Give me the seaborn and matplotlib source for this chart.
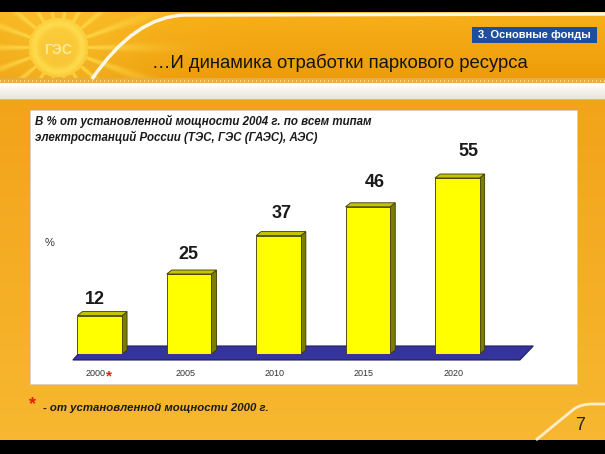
import numpy as np
import matplotlib
matplotlib.use("Agg")
import matplotlib.pyplot as plt
import seaborn as sns
from matplotlib.patches import Polygon, Rectangle, PathPatch
from matplotlib.path import Path
from matplotlib.transforms import ScaledTranslation

years = ["2000", "2005", "2010", "2015", "2020"]
values = [12, 25, 37, 46, 55]
title = "…И динамика отработки паркового ресурса"
section = "3. Основные фонды"
subtitle = ["В % от установленной мощности 2004 г. по всем типам",
            "электростанций России (ТЭС, ГЭС (ГАЭС), АЭС)"]
footnote = "- от установленной мощности 2000 г."

sns.set_theme(style="white")
plt.rcParams["font.family"] = ["Liberation Sans", "DejaVu Sans"]

W, H = 605, 454
fig = plt.figure(figsize=(W / 100, H / 100), dpi=100)

# ---- slide background (pixel coordinates)
bg = fig.add_axes([0, 0, 1, 1])
bg.axis("off")
yy, xx = np.mgrid[0:H, 0:W].astype(float)
img = np.zeros((H, W, 3))

t = (yy[12:78] - 12) / 66
img[12:78] = (np.array([0.97, 0.69, 0.10]) * (1 - t[..., None])
              + np.array([0.93, 0.61, 0.04]) * t[..., None])
# sun with rays at the top left
r = np.hypot(xx[12:80] - 58, yy[12:80] - 47)
th = np.arctan2(yy[12:80] - 47, xx[12:80] - 58)
rays = np.clip(np.cos(18 * th), 0, 1) ** 2
w = np.exp(-(r / 90) ** 2) * (0.3 + 0.6 * rays)
w = np.where(r < 30, 0.6 + 0.3 * np.exp(-((r - 24) / 4) ** 2), w)
w = np.clip(w, 0, 1)[..., None]
img[12:80] = img[12:80] * (1 - w) + np.array([1.0, 0.88, 0.32]) * w

img[78:83] = [0.90, 0.68, 0.28]
img[80:82, ::4] = [0.99, 0.86, 0.52]
t = (yy[83:99] - 83) / 16
img[83:99] = (np.array([1.0, 1.0, 0.99]) * (1 - t[..., None])
              + np.array([0.91, 0.89, 0.86]) * t[..., None])
img[99] = [0.82, 0.74, 0.60]
t = (yy[100:440] - 100) / 340
img[100:440] = (np.array([0.95, 0.64, 0.10]) * (1 - t[..., None])
                + np.array([0.97, 0.72, 0.19]) * t[..., None])
bg.imshow(img, extent=(0, W, H, 0), aspect="auto", zorder=0)
bg.set_xlim(0, W)
bg.set_ylim(H, 0)
bg.text(58, 50, "ГЭС", fontsize=10, fontweight="bold", color="#fff2b0", alpha=0.8,
        ha="center", va="center", zorder=1)

# swooshes
sw1 = Path([(92, 79), (135, 16), (185, 15), (605, 14)],
           [Path.MOVETO, Path.CURVE3, Path.CURVE3, Path.LINETO])
bg.add_patch(PathPatch(sw1, fill=False, edgecolor="white", lw=2.5, alpha=0.9, zorder=1))
sw2 = Path([(536, 440), (574, 409), (581, 404), (592, 404), (605, 404)],
           [Path.MOVETO, Path.LINETO, Path.CURVE3, Path.CURVE3, Path.LINETO])
bg.add_patch(PathPatch(sw2, fill=False, edgecolor="#fff4d8", lw=2, alpha=0.9, zorder=1))

# white panel
bg.add_patch(Rectangle((30, 110), 547, 274, facecolor="white",
                       edgecolor="#d8cfc0", lw=0.6, zorder=1))

# texts
bg.text(152, 63, title, fontsize=13.3, color="#141414", va="center", ha="left", zorder=2)
bg.add_patch(Rectangle((472, 27), 125, 16, facecolor="#1d4f9e", edgecolor="none", zorder=2))
bg.text(534.5, 35.5, section, fontsize=8, color="white", fontweight="bold",
        va="center", ha="center", zorder=3)
for i, line in enumerate(subtitle):
    bg.text(35, 121 + 16 * i, line, fontsize=8.3, fontweight="bold", style="italic",
            color="#1a1a1a", va="center", ha="left", zorder=2)
bg.text(45, 243, "%", fontsize=8, color="#333333", va="center", ha="left", zorder=2)
bg.text(29, 405, "*", fontsize=13, color="#e02010", fontweight="bold",
        va="center", ha="left", zorder=2)
bg.text(43, 408, footnote, fontsize=8.2, fontweight="bold", style="italic",
        color="#1a1a1a", va="center", ha="left", zorder=2)
bg.text(580, 425, "7", fontsize=13, color="#222222", va="center", ha="center", zorder=2)

# ---- chart
px_x, px_y = 89.4, 3.2          # pixels per data unit
ax = fig.add_axes([55 / W, 1 - 354 / H, 490 / W, 204 / H])
ax.patch.set_alpha(0)
sns.barplot(x=years, y=values, color="#ffff00", saturation=1, width=0.5,
            edgecolor="#3a3a00", linewidth=0.6, ax=ax, zorder=3)
ax.set_xlim(-0.5, -0.5 + 490 / px_x)
ax.set_ylim(0, 204 / px_y)
for s in ax.spines.values():
    s.set_visible(False)
ax.set_yticks([])
ax.set_xlabel("")
ax.set_ylabel("")

# floor
floor = Polygon([(-0.30, -6 / px_y), (4.70, -6 / px_y), (4.85, 8 / px_y), (-0.16, 8 / px_y)],
                closed=True, facecolor="#34349c", edgecolor="#1c1c66", lw=0.8,
                clip_on=False, zorder=1)
ax.add_patch(floor)

# 3-D side and top faces
dx, dy = 5 / px_x, 4 / px_y
bars = list(ax.patches)[:len(values)]
for p in bars:
    x0, wd, h = p.get_x(), p.get_width(), p.get_height()
    side = Polygon([(x0 + wd, 0), (x0 + wd + dx, dy), (x0 + wd + dx, h + dy), (x0 + wd, h)],
                   facecolor="#7c7c00", edgecolor="#3a3a00", lw=0.6, zorder=2, clip_on=False)
    top = Polygon([(x0, h), (x0 + dx, h + dy), (x0 + wd + dx, h + dy), (x0 + wd, h)],
                  facecolor="#c4c400", edgecolor="#3a3a00", lw=0.6, zorder=4, clip_on=False)
    ax.add_patch(side)
    ax.add_patch(top)

for i, v in enumerate(values):
    ax.text(i + (4 * i - 5) / px_x, v * 1.074 + 4.2, str(v), ha="center", va="center",
            fontsize=13, fontweight="bold", color="#1a1a1a", clip_on=False)

ax.set_xticks(range(len(years)))
ax.set_xticklabels(years)
ax.tick_params(axis="x", length=0, pad=11, labelsize=6.5, labelcolor="#333333")
shift = ScaledTranslation(-4 / 100, 0, fig.dpi_scale_trans)
for lbl in ax.get_xticklabels():
    lbl.set_transform(lbl.get_transform() + shift)
ax.annotate("*", xy=(0, 0), xycoords=("data", "axes fraction"), xytext=(7, -16),
            textcoords="offset points", fontsize=11, color="#e02010", fontweight="bold",
            ha="center", va="center")

fig.savefig("out.png", dpi=100)
